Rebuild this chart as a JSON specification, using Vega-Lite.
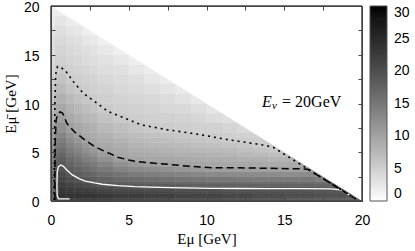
{
"$schema":"https://vega.github.io/schema/vega-lite/v6.json",
"width":311,"height":195,
"autosize":{"type":"none"},
"padding":{"left":51,"top":6,"right":53,"bottom":50},
"background":"white",
"config":{"view":{"stroke":null},"axis":{"grid":false,"domainColor":"#444","domainWidth":1,"tickColor":"#444","tickWidth":1,"labelFont":"Liberation Sans","labelFontSize":14,"labelColor":"#000","titleFont":"Liberation Serif","titleFontSize":15,"titleFontWeight":"normal","titleColor":"#000","labelFlush":false,"labelOverlap":false}},
"datasets":{
"grid":[
{"x0":0,"x1":0.25,"y0":0,"y1":0.25,"v":15.8},{"x0":0,"x1":0.25,"y0":0.25,"y1":0.5,"v":17.0},{"x0":0,"x1":0.25,"y0":0.5,"y1":0.75,"v":17.5},{"x0":0,"x1":0.25,"y0":0.75,"y1":1,"v":17.3},{"x0":0,"x1":0.25,"y0":1,"y1":1.25,"v":17.0},{"x0":0,"x1":0.25,"y0":1.25,"y1":1.5,"v":16.8},{"x0":0,"x1":0.25,"y0":1.5,"y1":1.75,"v":16.6},{"x0":0,"x1":0.25,"y0":1.75,"y1":2,"v":16.4},{"x0":0,"x1":0.25,"y0":2,"y1":2.5,"v":16.1},{"x0":0,"x1":0.25,"y0":2.5,"y1":3,"v":15.6},{"x0":0,"x1":0.25,"y0":3,"y1":3.5,"v":15.1},{"x0":0,"x1":0.25,"y0":3.5,"y1":4,"v":14.5},{"x0":0,"x1":0.25,"y0":4,"y1":4.5,"v":13.8},{"x0":0,"x1":0.25,"y0":4.5,"y1":5,"v":13.1},{"x0":0,"x1":0.25,"y0":5,"y1":5.5,"v":12.5},{"x0":0,"x1":0.25,"y0":5.5,"y1":6,"v":11.8},{"x0":0,"x1":0.25,"y0":6,"y1":6.5,"v":11.1},{"x0":0,"x1":0.25,"y0":6.5,"y1":7,"v":10.5},{"x0":0,"x1":0.25,"y0":7,"y1":8,"v":9.4},{"x0":0,"x1":0.25,"y0":8,"y1":9,"v":8.2},{"x0":0,"x1":0.25,"y0":9,"y1":10,"v":7.3},{"x0":0,"x1":0.25,"y0":10,"y1":11,"v":6.5},{"x0":0,"x1":0.25,"y0":11,"y1":12,"v":5.8},{"x0":0,"x1":0.25,"y0":12,"y1":13,"v":5.0},{"x0":0,"x1":0.25,"y0":13,"y1":14,"v":4.3},{"x0":0,"x1":0.25,"y0":14,"y1":15,"v":3.9},{"x0":0,"x1":0.25,"y0":15,"y1":16,"v":3.5},{"x0":0,"x1":0.25,"y0":16,"y1":17,"v":3.2},{"x0":0,"x1":0.25,"y0":17,"y1":18,"v":2.8},{"x0":0,"x1":0.25,"y0":18,"y1":19,"v":2.1},{"x0":0,"x1":0.25,"y0":19,"y1":20,"v":1.6},
{"x0":0.25,"x1":0.5,"y0":0,"y1":0.25,"v":19.8},{"x0":0.25,"x1":0.5,"y0":0.25,"y1":0.5,"v":21.3},{"x0":0.25,"x1":0.5,"y0":0.5,"y1":0.75,"v":21.9},{"x0":0.25,"x1":0.5,"y0":0.75,"y1":1,"v":21.6},{"x0":0.25,"x1":0.5,"y0":1,"y1":1.25,"v":21.3},{"x0":0.25,"x1":0.5,"y0":1.25,"y1":1.5,"v":21.0},{"x0":0.25,"x1":0.5,"y0":1.5,"y1":1.75,"v":20.8},{"x0":0.25,"x1":0.5,"y0":1.75,"y1":2,"v":20.5},{"x0":0.25,"x1":0.5,"y0":2,"y1":2.5,"v":20.1},{"x0":0.25,"x1":0.5,"y0":2.5,"y1":3,"v":19.5},{"x0":0.25,"x1":0.5,"y0":3,"y1":3.5,"v":18.9},{"x0":0.25,"x1":0.5,"y0":3.5,"y1":4,"v":18.1},{"x0":0.25,"x1":0.5,"y0":4,"y1":4.5,"v":17.3},{"x0":0.25,"x1":0.5,"y0":4.5,"y1":5,"v":16.4},{"x0":0.25,"x1":0.5,"y0":5,"y1":5.5,"v":15.6},{"x0":0.25,"x1":0.5,"y0":5.5,"y1":6,"v":14.8},{"x0":0.25,"x1":0.5,"y0":6,"y1":6.5,"v":13.9},{"x0":0.25,"x1":0.5,"y0":6.5,"y1":7,"v":13.1},{"x0":0.25,"x1":0.5,"y0":7,"y1":8,"v":11.8},{"x0":0.25,"x1":0.5,"y0":8,"y1":9,"v":10.2},{"x0":0.25,"x1":0.5,"y0":9,"y1":10,"v":9.1},{"x0":0.25,"x1":0.5,"y0":10,"y1":11,"v":8.1},{"x0":0.25,"x1":0.5,"y0":11,"y1":12,"v":7.2},{"x0":0.25,"x1":0.5,"y0":12,"y1":13,"v":6.2},{"x0":0.25,"x1":0.5,"y0":13,"y1":14,"v":5.4},{"x0":0.25,"x1":0.5,"y0":14,"y1":15,"v":4.9},{"x0":0.25,"x1":0.5,"y0":15,"y1":16,"v":4.4},{"x0":0.25,"x1":0.5,"y0":16,"y1":17,"v":4.0},{"x0":0.25,"x1":0.5,"y0":17,"y1":18,"v":3.5},{"x0":0.25,"x1":0.5,"y0":18,"y1":19,"v":2.7},{"x0":0.25,"x1":0.5,"y0":19,"y1":20,"v":2.0},
{"x0":0.5,"x1":1,"y0":0,"y1":0.25,"v":21.8},{"x0":0.5,"x1":1,"y0":0.25,"y1":0.5,"v":23.3},{"x0":0.5,"x1":1,"y0":0.5,"y1":0.75,"v":23.8},{"x0":0.5,"x1":1,"y0":0.75,"y1":1,"v":23.4},{"x0":0.5,"x1":1,"y0":1,"y1":1.25,"v":23.0},{"x0":0.5,"x1":1,"y0":1.25,"y1":1.5,"v":22.6},{"x0":0.5,"x1":1,"y0":1.5,"y1":1.75,"v":22.2},{"x0":0.5,"x1":1,"y0":1.75,"y1":2,"v":21.8},{"x0":0.5,"x1":1,"y0":2,"y1":2.5,"v":21.2},{"x0":0.5,"x1":1,"y0":2.5,"y1":3,"v":20.4},{"x0":0.5,"x1":1,"y0":3,"y1":3.5,"v":19.6},{"x0":0.5,"x1":1,"y0":3.5,"y1":4,"v":18.7},{"x0":0.5,"x1":1,"y0":4,"y1":4.5,"v":17.9},{"x0":0.5,"x1":1,"y0":4.5,"y1":5,"v":17.0},{"x0":0.5,"x1":1,"y0":5,"y1":5.5,"v":16.1},{"x0":0.5,"x1":1,"y0":5.5,"y1":6,"v":15.2},{"x0":0.5,"x1":1,"y0":6,"y1":6.5,"v":14.3},{"x0":0.5,"x1":1,"y0":6.5,"y1":7,"v":13.4},{"x0":0.5,"x1":1,"y0":7,"y1":8,"v":12.1},{"x0":0.5,"x1":1,"y0":8,"y1":9,"v":10.4},{"x0":0.5,"x1":1,"y0":9,"y1":10,"v":9.3},{"x0":0.5,"x1":1,"y0":10,"y1":11,"v":8.3},{"x0":0.5,"x1":1,"y0":11,"y1":12,"v":7.4},{"x0":0.5,"x1":1,"y0":12,"y1":13,"v":6.5},{"x0":0.5,"x1":1,"y0":13,"y1":14,"v":5.6},{"x0":0.5,"x1":1,"y0":14,"y1":15,"v":5.0},{"x0":0.5,"x1":1,"y0":15,"y1":16,"v":4.5},{"x0":0.5,"x1":1,"y0":16,"y1":17,"v":4.0},{"x0":0.5,"x1":1,"y0":17,"y1":18,"v":3.4},{"x0":0.5,"x1":1,"y0":18,"y1":19,"v":2.6},{"x0":0.5,"x1":1,"y0":19,"y1":20,"v":1.8},
{"x0":1,"x1":1.5,"y0":0,"y1":0.25,"v":21.8},{"x0":1,"x1":1.5,"y0":0.25,"y1":0.5,"v":23.3},{"x0":1,"x1":1.5,"y0":0.5,"y1":0.75,"v":23.7},{"x0":1,"x1":1.5,"y0":0.75,"y1":1,"v":23.2},{"x0":1,"x1":1.5,"y0":1,"y1":1.25,"v":22.6},{"x0":1,"x1":1.5,"y0":1.25,"y1":1.5,"v":22.1},{"x0":1,"x1":1.5,"y0":1.5,"y1":1.75,"v":21.6},{"x0":1,"x1":1.5,"y0":1.75,"y1":2,"v":21.0},{"x0":1,"x1":1.5,"y0":2,"y1":2.5,"v":20.2},{"x0":1,"x1":1.5,"y0":2.5,"y1":3,"v":19.1},{"x0":1,"x1":1.5,"y0":3,"y1":3.5,"v":18.2},{"x0":1,"x1":1.5,"y0":3.5,"y1":4,"v":17.2},{"x0":1,"x1":1.5,"y0":4,"y1":4.5,"v":16.3},{"x0":1,"x1":1.5,"y0":4.5,"y1":5,"v":15.3},{"x0":1,"x1":1.5,"y0":5,"y1":5.5,"v":14.4},{"x0":1,"x1":1.5,"y0":5.5,"y1":6,"v":13.5},{"x0":1,"x1":1.5,"y0":6,"y1":6.5,"v":12.5},{"x0":1,"x1":1.5,"y0":6.5,"y1":7,"v":11.6},{"x0":1,"x1":1.5,"y0":7,"y1":8,"v":10.2},{"x0":1,"x1":1.5,"y0":8,"y1":9,"v":9.2},{"x0":1,"x1":1.5,"y0":9,"y1":10,"v":8.2},{"x0":1,"x1":1.5,"y0":10,"y1":11,"v":7.3},{"x0":1,"x1":1.5,"y0":11,"y1":12,"v":6.3},{"x0":1,"x1":1.5,"y0":12,"y1":13,"v":5.5},{"x0":1,"x1":1.5,"y0":13,"y1":14,"v":5.0},{"x0":1,"x1":1.5,"y0":14,"y1":15,"v":4.5},{"x0":1,"x1":1.5,"y0":15,"y1":16,"v":4.0},{"x0":1,"x1":1.5,"y0":16,"y1":17,"v":3.6},{"x0":1,"x1":1.5,"y0":17,"y1":18,"v":2.8},{"x0":1,"x1":1.5,"y0":18,"y1":19,"v":2.0},
{"x0":1.5,"x1":2,"y0":0,"y1":0.25,"v":21.8},{"x0":1.5,"x1":2,"y0":0.25,"y1":0.5,"v":23.3},{"x0":1.5,"x1":2,"y0":0.5,"y1":0.75,"v":23.7},{"x0":1.5,"x1":2,"y0":0.75,"y1":1,"v":23.0},{"x0":1.5,"x1":2,"y0":1,"y1":1.25,"v":22.4},{"x0":1.5,"x1":2,"y0":1.25,"y1":1.5,"v":21.7},{"x0":1.5,"x1":2,"y0":1.5,"y1":1.75,"v":21.0},{"x0":1.5,"x1":2,"y0":1.75,"y1":2,"v":20.4},{"x0":1.5,"x1":2,"y0":2,"y1":2.5,"v":19.4},{"x0":1.5,"x1":2,"y0":2.5,"y1":3,"v":18.3},{"x0":1.5,"x1":2,"y0":3,"y1":3.5,"v":17.3},{"x0":1.5,"x1":2,"y0":3.5,"y1":4,"v":16.3},{"x0":1.5,"x1":2,"y0":4,"y1":4.5,"v":15.3},{"x0":1.5,"x1":2,"y0":4.5,"y1":5,"v":14.3},{"x0":1.5,"x1":2,"y0":5,"y1":5.5,"v":13.3},{"x0":1.5,"x1":2,"y0":5.5,"y1":6,"v":12.3},{"x0":1.5,"x1":2,"y0":6,"y1":6.5,"v":11.3},{"x0":1.5,"x1":2,"y0":6.5,"y1":7,"v":10.3},{"x0":1.5,"x1":2,"y0":7,"y1":8,"v":9.4},{"x0":1.5,"x1":2,"y0":8,"y1":9,"v":8.5},{"x0":1.5,"x1":2,"y0":9,"y1":10,"v":7.6},{"x0":1.5,"x1":2,"y0":10,"y1":11,"v":6.6},{"x0":1.5,"x1":2,"y0":11,"y1":12,"v":5.7},{"x0":1.5,"x1":2,"y0":12,"y1":13,"v":5.1},{"x0":1.5,"x1":2,"y0":13,"y1":14,"v":4.6},{"x0":1.5,"x1":2,"y0":14,"y1":15,"v":4.2},{"x0":1.5,"x1":2,"y0":15,"y1":16,"v":3.7},{"x0":1.5,"x1":2,"y0":16,"y1":17,"v":3.2},{"x0":1.5,"x1":2,"y0":17,"y1":18,"v":2.5},{"x0":1.5,"x1":2,"y0":18,"y1":19,"v":1.8},
{"x0":2,"x1":2.5,"y0":0,"y1":0.25,"v":21.8},{"x0":2,"x1":2.5,"y0":0.25,"y1":0.5,"v":23.3},{"x0":2,"x1":2.5,"y0":0.5,"y1":0.75,"v":23.6},{"x0":2,"x1":2.5,"y0":0.75,"y1":1,"v":22.8},{"x0":2,"x1":2.5,"y0":1,"y1":1.25,"v":22.0},{"x0":2,"x1":2.5,"y0":1.25,"y1":1.5,"v":21.2},{"x0":2,"x1":2.5,"y0":1.5,"y1":1.75,"v":20.4},{"x0":2,"x1":2.5,"y0":1.75,"y1":2,"v":19.6},{"x0":2,"x1":2.5,"y0":2,"y1":2.5,"v":18.6},{"x0":2,"x1":2.5,"y0":2.5,"y1":3,"v":17.5},{"x0":2,"x1":2.5,"y0":3,"y1":3.5,"v":16.4},{"x0":2,"x1":2.5,"y0":3.5,"y1":4,"v":15.3},{"x0":2,"x1":2.5,"y0":4,"y1":4.5,"v":14.2},{"x0":2,"x1":2.5,"y0":4.5,"y1":5,"v":13.1},{"x0":2,"x1":2.5,"y0":5,"y1":5.5,"v":12.1},{"x0":2,"x1":2.5,"y0":5.5,"y1":6,"v":11.0},{"x0":2,"x1":2.5,"y0":6,"y1":6.5,"v":10.0},{"x0":2,"x1":2.5,"y0":6.5,"y1":7,"v":9.5},{"x0":2,"x1":2.5,"y0":7,"y1":8,"v":8.8},{"x0":2,"x1":2.5,"y0":8,"y1":9,"v":7.8},{"x0":2,"x1":2.5,"y0":9,"y1":10,"v":6.9},{"x0":2,"x1":2.5,"y0":10,"y1":11,"v":6.0},{"x0":2,"x1":2.5,"y0":11,"y1":12,"v":5.3},{"x0":2,"x1":2.5,"y0":12,"y1":13,"v":4.8},{"x0":2,"x1":2.5,"y0":13,"y1":14,"v":4.3},{"x0":2,"x1":2.5,"y0":14,"y1":15,"v":3.8},{"x0":2,"x1":2.5,"y0":15,"y1":16,"v":3.4},{"x0":2,"x1":2.5,"y0":16,"y1":17,"v":2.6},{"x0":2,"x1":2.5,"y0":17,"y1":18,"v":1.8},
{"x0":2.5,"x1":3,"y0":0,"y1":0.25,"v":21.8},{"x0":2.5,"x1":3,"y0":0.25,"y1":0.5,"v":23.3},{"x0":2.5,"x1":3,"y0":0.5,"y1":0.75,"v":23.5},{"x0":2.5,"x1":3,"y0":0.75,"y1":1,"v":22.6},{"x0":2.5,"x1":3,"y0":1,"y1":1.25,"v":21.7},{"x0":2.5,"x1":3,"y0":1.25,"y1":1.5,"v":20.8},{"x0":2.5,"x1":3,"y0":1.5,"y1":1.75,"v":19.8},{"x0":2.5,"x1":3,"y0":1.75,"y1":2,"v":18.9},{"x0":2.5,"x1":3,"y0":2,"y1":2.5,"v":18.1},{"x0":2.5,"x1":3,"y0":2.5,"y1":3,"v":16.9},{"x0":2.5,"x1":3,"y0":3,"y1":3.5,"v":15.7},{"x0":2.5,"x1":3,"y0":3.5,"y1":4,"v":14.6},{"x0":2.5,"x1":3,"y0":4,"y1":4.5,"v":13.4},{"x0":2.5,"x1":3,"y0":4.5,"y1":5,"v":12.2},{"x0":2.5,"x1":3,"y0":5,"y1":5.5,"v":11.1},{"x0":2.5,"x1":3,"y0":5.5,"y1":6,"v":10.0},{"x0":2.5,"x1":3,"y0":6,"y1":6.5,"v":9.5},{"x0":2.5,"x1":3,"y0":6.5,"y1":7,"v":9.0},{"x0":2.5,"x1":3,"y0":7,"y1":8,"v":8.3},{"x0":2.5,"x1":3,"y0":8,"y1":9,"v":7.3},{"x0":2.5,"x1":3,"y0":9,"y1":10,"v":6.4},{"x0":2.5,"x1":3,"y0":10,"y1":11,"v":5.5},{"x0":2.5,"x1":3,"y0":11,"y1":12,"v":5.0},{"x0":2.5,"x1":3,"y0":12,"y1":13,"v":4.5},{"x0":2.5,"x1":3,"y0":13,"y1":14,"v":4.0},{"x0":2.5,"x1":3,"y0":14,"y1":15,"v":3.5},{"x0":2.5,"x1":3,"y0":15,"y1":16,"v":3.0},{"x0":2.5,"x1":3,"y0":16,"y1":17,"v":2.3},{"x0":2.5,"x1":3,"y0":17,"y1":18,"v":1.6},
{"x0":3,"x1":4,"y0":0,"y1":0.25,"v":21.3},{"x0":3,"x1":4,"y0":0.25,"y1":0.5,"v":22.8},{"x0":3,"x1":4,"y0":0.5,"y1":0.75,"v":23.0},{"x0":3,"x1":4,"y0":0.75,"y1":1,"v":22.1},{"x0":3,"x1":4,"y0":1,"y1":1.25,"v":21.2},{"x0":3,"x1":4,"y0":1.25,"y1":1.5,"v":20.2},{"x0":3,"x1":4,"y0":1.5,"y1":1.75,"v":19.3},{"x0":3,"x1":4,"y0":1.75,"y1":2,"v":18.5},{"x0":3,"x1":4,"y0":2,"y1":2.5,"v":17.5},{"x0":3,"x1":4,"y0":2.5,"y1":3,"v":16.1},{"x0":3,"x1":4,"y0":3,"y1":3.5,"v":14.8},{"x0":3,"x1":4,"y0":3.5,"y1":4,"v":13.4},{"x0":3,"x1":4,"y0":4,"y1":4.5,"v":12.0},{"x0":3,"x1":4,"y0":4.5,"y1":5,"v":10.7},{"x0":3,"x1":4,"y0":5,"y1":5.5,"v":9.8},{"x0":3,"x1":4,"y0":5.5,"y1":6,"v":9.3},{"x0":3,"x1":4,"y0":6,"y1":6.5,"v":8.8},{"x0":3,"x1":4,"y0":6.5,"y1":7,"v":8.3},{"x0":3,"x1":4,"y0":7,"y1":8,"v":7.5},{"x0":3,"x1":4,"y0":8,"y1":9,"v":6.5},{"x0":3,"x1":4,"y0":9,"y1":10,"v":5.5},{"x0":3,"x1":4,"y0":10,"y1":11,"v":5.0},{"x0":3,"x1":4,"y0":11,"y1":12,"v":4.6},{"x0":3,"x1":4,"y0":12,"y1":13,"v":4.1},{"x0":3,"x1":4,"y0":13,"y1":14,"v":3.6},{"x0":3,"x1":4,"y0":14,"y1":15,"v":3.1},{"x0":3,"x1":4,"y0":15,"y1":16,"v":2.4},{"x0":3,"x1":4,"y0":16,"y1":17,"v":1.7},
{"x0":4,"x1":5,"y0":0,"y1":0.25,"v":20.8},{"x0":4,"x1":5,"y0":0.25,"y1":0.5,"v":22.3},{"x0":4,"x1":5,"y0":0.5,"y1":0.75,"v":22.5},{"x0":4,"x1":5,"y0":0.75,"y1":1,"v":21.6},{"x0":4,"x1":5,"y0":1,"y1":1.25,"v":20.6},{"x0":4,"x1":5,"y0":1.25,"y1":1.5,"v":19.7},{"x0":4,"x1":5,"y0":1.5,"y1":1.75,"v":18.8},{"x0":4,"x1":5,"y0":1.75,"y1":2,"v":18.0},{"x0":4,"x1":5,"y0":2,"y1":2.5,"v":16.8},{"x0":4,"x1":5,"y0":2.5,"y1":3,"v":15.2},{"x0":4,"x1":5,"y0":3,"y1":3.5,"v":13.6},{"x0":4,"x1":5,"y0":3.5,"y1":4,"v":12.1},{"x0":4,"x1":5,"y0":4,"y1":4.5,"v":10.5},{"x0":4,"x1":5,"y0":4.5,"y1":5,"v":9.6},{"x0":4,"x1":5,"y0":5,"y1":5.5,"v":9.1},{"x0":4,"x1":5,"y0":5.5,"y1":6,"v":8.6},{"x0":4,"x1":5,"y0":6,"y1":6.5,"v":8.1},{"x0":4,"x1":5,"y0":6.5,"y1":7,"v":7.5},{"x0":4,"x1":5,"y0":7,"y1":8,"v":6.8},{"x0":4,"x1":5,"y0":8,"y1":9,"v":5.7},{"x0":4,"x1":5,"y0":9,"y1":10,"v":5.1},{"x0":4,"x1":5,"y0":10,"y1":11,"v":4.6},{"x0":4,"x1":5,"y0":11,"y1":12,"v":4.1},{"x0":4,"x1":5,"y0":12,"y1":13,"v":3.7},{"x0":4,"x1":5,"y0":13,"y1":14,"v":3.2},{"x0":4,"x1":5,"y0":14,"y1":15,"v":2.4},{"x0":4,"x1":5,"y0":15,"y1":16,"v":1.7},
{"x0":5,"x1":6,"y0":0,"y1":0.25,"v":20.8},{"x0":5,"x1":6,"y0":0.25,"y1":0.5,"v":22.3},{"x0":5,"x1":6,"y0":0.5,"y1":0.75,"v":22.5},{"x0":5,"x1":6,"y0":0.75,"y1":1,"v":21.5},{"x0":5,"x1":6,"y0":1,"y1":1.25,"v":20.4},{"x0":5,"x1":6,"y0":1.25,"y1":1.5,"v":19.4},{"x0":5,"x1":6,"y0":1.5,"y1":1.75,"v":18.5},{"x0":5,"x1":6,"y0":1.75,"y1":2,"v":17.6},{"x0":5,"x1":6,"y0":2,"y1":2.5,"v":16.3},{"x0":5,"x1":6,"y0":2.5,"y1":3,"v":14.5},{"x0":5,"x1":6,"y0":3,"y1":3.5,"v":12.8},{"x0":5,"x1":6,"y0":3.5,"y1":4,"v":11.0},{"x0":5,"x1":6,"y0":4,"y1":4.5,"v":9.8},{"x0":5,"x1":6,"y0":4.5,"y1":5,"v":9.2},{"x0":5,"x1":6,"y0":5,"y1":5.5,"v":8.6},{"x0":5,"x1":6,"y0":5.5,"y1":6,"v":8.1},{"x0":5,"x1":6,"y0":6,"y1":6.5,"v":7.5},{"x0":5,"x1":6,"y0":6.5,"y1":7,"v":6.9},{"x0":5,"x1":6,"y0":7,"y1":8,"v":6.1},{"x0":5,"x1":6,"y0":8,"y1":9,"v":5.3},{"x0":5,"x1":6,"y0":9,"y1":10,"v":4.8},{"x0":5,"x1":6,"y0":10,"y1":11,"v":4.3},{"x0":5,"x1":6,"y0":11,"y1":12,"v":3.8},{"x0":5,"x1":6,"y0":12,"y1":13,"v":3.3},{"x0":5,"x1":6,"y0":13,"y1":14,"v":2.5},{"x0":5,"x1":6,"y0":14,"y1":15,"v":1.8},
{"x0":6,"x1":7,"y0":0,"y1":0.25,"v":20.3},{"x0":6,"x1":7,"y0":0.25,"y1":0.5,"v":21.8},{"x0":6,"x1":7,"y0":0.5,"y1":0.75,"v":22.0},{"x0":6,"x1":7,"y0":0.75,"y1":1,"v":21.1},{"x0":6,"x1":7,"y0":1,"y1":1.25,"v":20.1},{"x0":6,"x1":7,"y0":1.25,"y1":1.5,"v":19.2},{"x0":6,"x1":7,"y0":1.5,"y1":1.75,"v":18.3},{"x0":6,"x1":7,"y0":1.75,"y1":2,"v":17.3},{"x0":6,"x1":7,"y0":2,"y1":2.5,"v":16.0},{"x0":6,"x1":7,"y0":2.5,"y1":3,"v":14.2},{"x0":6,"x1":7,"y0":3,"y1":3.5,"v":12.4},{"x0":6,"x1":7,"y0":3.5,"y1":4,"v":10.5},{"x0":6,"x1":7,"y0":4,"y1":4.5,"v":9.6},{"x0":6,"x1":7,"y0":4.5,"y1":5,"v":9.0},{"x0":6,"x1":7,"y0":5,"y1":5.5,"v":8.4},{"x0":6,"x1":7,"y0":5.5,"y1":6,"v":7.7},{"x0":6,"x1":7,"y0":6,"y1":6.5,"v":7.1},{"x0":6,"x1":7,"y0":6.5,"y1":7,"v":6.5},{"x0":6,"x1":7,"y0":7,"y1":8,"v":5.6},{"x0":6,"x1":7,"y0":8,"y1":9,"v":5.0},{"x0":6,"x1":7,"y0":9,"y1":10,"v":4.5},{"x0":6,"x1":7,"y0":10,"y1":11,"v":4.0},{"x0":6,"x1":7,"y0":11,"y1":12,"v":3.4},{"x0":6,"x1":7,"y0":12,"y1":13,"v":2.6},{"x0":6,"x1":7,"y0":13,"y1":14,"v":1.9},
{"x0":7,"x1":8,"y0":0,"y1":0.25,"v":20.3},{"x0":7,"x1":8,"y0":0.25,"y1":0.5,"v":21.8},{"x0":7,"x1":8,"y0":0.5,"y1":0.75,"v":22.0},{"x0":7,"x1":8,"y0":0.75,"y1":1,"v":21.0},{"x0":7,"x1":8,"y0":1,"y1":1.25,"v":20.0},{"x0":7,"x1":8,"y0":1.25,"y1":1.5,"v":19.0},{"x0":7,"x1":8,"y0":1.5,"y1":1.75,"v":18.1},{"x0":7,"x1":8,"y0":1.75,"y1":2,"v":17.1},{"x0":7,"x1":8,"y0":2,"y1":2.5,"v":15.7},{"x0":7,"x1":8,"y0":2.5,"y1":3,"v":13.8},{"x0":7,"x1":8,"y0":3,"y1":3.5,"v":11.9},{"x0":7,"x1":8,"y0":3.5,"y1":4,"v":10.0},{"x0":7,"x1":8,"y0":4,"y1":4.5,"v":9.4},{"x0":7,"x1":8,"y0":4.5,"y1":5,"v":8.7},{"x0":7,"x1":8,"y0":5,"y1":5.5,"v":8.1},{"x0":7,"x1":8,"y0":5.5,"y1":6,"v":7.5},{"x0":7,"x1":8,"y0":6,"y1":6.5,"v":6.8},{"x0":7,"x1":8,"y0":6.5,"y1":7,"v":6.2},{"x0":7,"x1":8,"y0":7,"y1":8,"v":5.4},{"x0":7,"x1":8,"y0":8,"y1":9,"v":4.8},{"x0":7,"x1":8,"y0":9,"y1":10,"v":4.2},{"x0":7,"x1":8,"y0":10,"y1":11,"v":3.7},{"x0":7,"x1":8,"y0":11,"y1":12,"v":2.8},{"x0":7,"x1":8,"y0":12,"y1":13,"v":2.0},
{"x0":8,"x1":9,"y0":0,"y1":0.25,"v":19.8},{"x0":8,"x1":9,"y0":0.25,"y1":0.5,"v":21.3},{"x0":8,"x1":9,"y0":0.5,"y1":0.75,"v":21.6},{"x0":8,"x1":9,"y0":0.75,"y1":1,"v":20.7},{"x0":8,"x1":9,"y0":1,"y1":1.25,"v":19.8},{"x0":8,"x1":9,"y0":1.25,"y1":1.5,"v":18.9},{"x0":8,"x1":9,"y0":1.5,"y1":1.75,"v":17.9},{"x0":8,"x1":9,"y0":1.75,"y1":2,"v":16.9},{"x0":8,"x1":9,"y0":2,"y1":2.5,"v":15.4},{"x0":8,"x1":9,"y0":2.5,"y1":3,"v":13.4},{"x0":8,"x1":9,"y0":3,"y1":3.5,"v":11.4},{"x0":8,"x1":9,"y0":3.5,"y1":4,"v":9.8},{"x0":8,"x1":9,"y0":4,"y1":4.5,"v":9.2},{"x0":8,"x1":9,"y0":4.5,"y1":5,"v":8.5},{"x0":8,"x1":9,"y0":5,"y1":5.5,"v":7.8},{"x0":8,"x1":9,"y0":5.5,"y1":6,"v":7.2},{"x0":8,"x1":9,"y0":6,"y1":6.5,"v":6.5},{"x0":8,"x1":9,"y0":6.5,"y1":7,"v":5.9},{"x0":8,"x1":9,"y0":7,"y1":8,"v":5.2},{"x0":8,"x1":9,"y0":8,"y1":9,"v":4.6},{"x0":8,"x1":9,"y0":9,"y1":10,"v":4.0},{"x0":8,"x1":9,"y0":10,"y1":11,"v":3.0},{"x0":8,"x1":9,"y0":11,"y1":12,"v":2.2},
{"x0":9,"x1":10,"y0":0,"y1":0.25,"v":19.8},{"x0":9,"x1":10,"y0":0.25,"y1":0.5,"v":21.3},{"x0":9,"x1":10,"y0":0.5,"y1":0.75,"v":21.5},{"x0":9,"x1":10,"y0":0.75,"y1":1,"v":20.6},{"x0":9,"x1":10,"y0":1,"y1":1.25,"v":19.7},{"x0":9,"x1":10,"y0":1.25,"y1":1.5,"v":18.8},{"x0":9,"x1":10,"y0":1.5,"y1":1.75,"v":17.8},{"x0":9,"x1":10,"y0":1.75,"y1":2,"v":16.7},{"x0":9,"x1":10,"y0":2,"y1":2.5,"v":15.2},{"x0":9,"x1":10,"y0":2.5,"y1":3,"v":13.1},{"x0":9,"x1":10,"y0":3,"y1":3.5,"v":11.0},{"x0":9,"x1":10,"y0":3.5,"y1":4,"v":9.7},{"x0":9,"x1":10,"y0":4,"y1":4.5,"v":9.0},{"x0":9,"x1":10,"y0":4.5,"y1":5,"v":8.3},{"x0":9,"x1":10,"y0":5,"y1":5.5,"v":7.6},{"x0":9,"x1":10,"y0":5.5,"y1":6,"v":6.9},{"x0":9,"x1":10,"y0":6,"y1":6.5,"v":6.3},{"x0":9,"x1":10,"y0":6.5,"y1":7,"v":5.6},{"x0":9,"x1":10,"y0":7,"y1":8,"v":5.0},{"x0":9,"x1":10,"y0":8,"y1":9,"v":4.3},{"x0":9,"x1":10,"y0":9,"y1":10,"v":3.3},{"x0":9,"x1":10,"y0":10,"y1":11,"v":2.4},
{"x0":10,"x1":11,"y0":0,"y1":0.25,"v":19.8},{"x0":10,"x1":11,"y0":0.25,"y1":0.5,"v":21.3},{"x0":10,"x1":11,"y0":0.5,"y1":0.75,"v":21.5},{"x0":10,"x1":11,"y0":0.75,"y1":1,"v":20.6},{"x0":10,"x1":11,"y0":1,"y1":1.25,"v":19.7},{"x0":10,"x1":11,"y0":1.25,"y1":1.5,"v":18.7},{"x0":10,"x1":11,"y0":1.5,"y1":1.75,"v":17.6},{"x0":10,"x1":11,"y0":1.75,"y1":2,"v":16.5},{"x0":10,"x1":11,"y0":2,"y1":2.5,"v":14.9},{"x0":10,"x1":11,"y0":2.5,"y1":3,"v":12.8},{"x0":10,"x1":11,"y0":3,"y1":3.5,"v":10.6},{"x0":10,"x1":11,"y0":3.5,"y1":4,"v":9.5},{"x0":10,"x1":11,"y0":4,"y1":4.5,"v":8.8},{"x0":10,"x1":11,"y0":4.5,"y1":5,"v":8.1},{"x0":10,"x1":11,"y0":5,"y1":5.5,"v":7.4},{"x0":10,"x1":11,"y0":5.5,"y1":6,"v":6.7},{"x0":10,"x1":11,"y0":6,"y1":6.5,"v":6.0},{"x0":10,"x1":11,"y0":6.5,"y1":7,"v":5.4},{"x0":10,"x1":11,"y0":7,"y1":8,"v":4.8},{"x0":10,"x1":11,"y0":8,"y1":9,"v":3.7},{"x0":10,"x1":11,"y0":9,"y1":10,"v":2.7},
{"x0":11,"x1":12,"y0":0,"y1":0.25,"v":19.3},{"x0":11,"x1":12,"y0":0.25,"y1":0.5,"v":20.8},{"x0":11,"x1":12,"y0":0.5,"y1":0.75,"v":21.1},{"x0":11,"x1":12,"y0":0.75,"y1":1,"v":20.3},{"x0":11,"x1":12,"y0":1,"y1":1.25,"v":19.5},{"x0":11,"x1":12,"y0":1.25,"y1":1.5,"v":18.6},{"x0":11,"x1":12,"y0":1.5,"y1":1.75,"v":17.5},{"x0":11,"x1":12,"y0":1.75,"y1":2,"v":16.5},{"x0":11,"x1":12,"y0":2,"y1":2.5,"v":14.9},{"x0":11,"x1":12,"y0":2.5,"y1":3,"v":12.8},{"x0":11,"x1":12,"y0":3,"y1":3.5,"v":10.6},{"x0":11,"x1":12,"y0":3.5,"y1":4,"v":9.4},{"x0":11,"x1":12,"y0":4,"y1":4.5,"v":8.7},{"x0":11,"x1":12,"y0":4.5,"y1":5,"v":7.9},{"x0":11,"x1":12,"y0":5,"y1":5.5,"v":7.1},{"x0":11,"x1":12,"y0":5.5,"y1":6,"v":6.3},{"x0":11,"x1":12,"y0":6,"y1":6.5,"v":5.5},{"x0":11,"x1":12,"y0":6.5,"y1":7,"v":5.1},{"x0":11,"x1":12,"y0":7,"y1":8,"v":4.4},{"x0":11,"x1":12,"y0":8,"y1":9,"v":3.3},
{"x0":12,"x1":13,"y0":0,"y1":0.25,"v":19.3},{"x0":12,"x1":13,"y0":0.25,"y1":0.5,"v":20.8},{"x0":12,"x1":13,"y0":0.5,"y1":0.75,"v":21.1},{"x0":12,"x1":13,"y0":0.75,"y1":1,"v":20.3},{"x0":12,"x1":13,"y0":1,"y1":1.25,"v":19.5},{"x0":12,"x1":13,"y0":1.25,"y1":1.5,"v":18.5},{"x0":12,"x1":13,"y0":1.5,"y1":1.75,"v":17.5},{"x0":12,"x1":13,"y0":1.75,"y1":2,"v":16.4},{"x0":12,"x1":13,"y0":2,"y1":2.5,"v":14.8},{"x0":12,"x1":13,"y0":2.5,"y1":3,"v":12.6},{"x0":12,"x1":13,"y0":3,"y1":3.5,"v":10.4},{"x0":12,"x1":13,"y0":3.5,"y1":4,"v":9.3},{"x0":12,"x1":13,"y0":4,"y1":4.5,"v":8.5},{"x0":12,"x1":13,"y0":4.5,"y1":5,"v":7.6},{"x0":12,"x1":13,"y0":5,"y1":5.5,"v":6.8},{"x0":12,"x1":13,"y0":5.5,"y1":6,"v":5.9},{"x0":12,"x1":13,"y0":6,"y1":6.5,"v":5.3},{"x0":12,"x1":13,"y0":6.5,"y1":7,"v":4.9},{"x0":12,"x1":13,"y0":7,"y1":8,"v":4.0},
{"x0":13,"x1":14,"y0":0,"y1":0.25,"v":18.8},{"x0":13,"x1":14,"y0":0.25,"y1":0.5,"v":20.3},{"x0":13,"x1":14,"y0":0.5,"y1":0.75,"v":20.7},{"x0":13,"x1":14,"y0":0.75,"y1":1,"v":20.0},{"x0":13,"x1":14,"y0":1,"y1":1.25,"v":19.4},{"x0":13,"x1":14,"y0":1.25,"y1":1.5,"v":18.5},{"x0":13,"x1":14,"y0":1.5,"y1":1.75,"v":17.4},{"x0":13,"x1":14,"y0":1.75,"y1":2,"v":16.3},{"x0":13,"x1":14,"y0":2,"y1":2.5,"v":14.6},{"x0":13,"x1":14,"y0":2.5,"y1":3,"v":12.5},{"x0":13,"x1":14,"y0":3,"y1":3.5,"v":10.3},{"x0":13,"x1":14,"y0":3.5,"y1":4,"v":9.2},{"x0":13,"x1":14,"y0":4,"y1":4.5,"v":8.3},{"x0":13,"x1":14,"y0":4.5,"y1":5,"v":7.3},{"x0":13,"x1":14,"y0":5,"y1":5.5,"v":6.4},{"x0":13,"x1":14,"y0":5.5,"y1":6,"v":5.5},{"x0":13,"x1":14,"y0":6,"y1":6.5,"v":5.2},{"x0":13,"x1":14,"y0":6.5,"y1":7,"v":4.8},
{"x0":14,"x1":15,"y0":0,"y1":0.25,"v":18.8},{"x0":14,"x1":15,"y0":0.25,"y1":0.5,"v":20.3},{"x0":14,"x1":15,"y0":0.5,"y1":0.75,"v":20.7},{"x0":14,"x1":15,"y0":0.75,"y1":1,"v":20.0},{"x0":14,"x1":15,"y0":1,"y1":1.25,"v":19.3},{"x0":14,"x1":15,"y0":1.25,"y1":1.5,"v":18.5},{"x0":14,"x1":15,"y0":1.5,"y1":1.75,"v":17.4},{"x0":14,"x1":15,"y0":1.75,"y1":2,"v":16.3},{"x0":14,"x1":15,"y0":2,"y1":2.5,"v":14.6},{"x0":14,"x1":15,"y0":2.5,"y1":3,"v":12.4},{"x0":14,"x1":15,"y0":3,"y1":3.5,"v":10.2},{"x0":14,"x1":15,"y0":3.5,"y1":4,"v":9.0},{"x0":14,"x1":15,"y0":4,"y1":4.5,"v":8.0},{"x0":14,"x1":15,"y0":4.5,"y1":5,"v":6.9},{"x0":14,"x1":15,"y0":5,"y1":5.5,"v":5.8},{"x0":14,"x1":15,"y0":5.5,"y1":6,"v":5.6},
{"x0":15,"x1":16,"y0":0,"y1":0.25,"v":18.3},{"x0":15,"x1":16,"y0":0.25,"y1":0.5,"v":19.8},{"x0":15,"x1":16,"y0":0.5,"y1":0.75,"v":20.3},{"x0":15,"x1":16,"y0":0.75,"y1":1,"v":19.8},{"x0":15,"x1":16,"y0":1,"y1":1.25,"v":19.3},{"x0":15,"x1":16,"y0":1.25,"y1":1.5,"v":18.4},{"x0":15,"x1":16,"y0":1.5,"y1":1.75,"v":17.3},{"x0":15,"x1":16,"y0":1.75,"y1":2,"v":16.2},{"x0":15,"x1":16,"y0":2,"y1":2.5,"v":14.5},{"x0":15,"x1":16,"y0":2.5,"y1":3,"v":12.3},{"x0":15,"x1":16,"y0":3,"y1":3.5,"v":10.0},{"x0":15,"x1":16,"y0":3.5,"y1":4,"v":9.0},{"x0":15,"x1":16,"y0":4,"y1":4.5,"v":8.0},{"x0":15,"x1":16,"y0":4.5,"y1":5,"v":7.0},
{"x0":16,"x1":17,"y0":0,"y1":0.25,"v":18.3},{"x0":16,"x1":17,"y0":0.25,"y1":0.5,"v":19.8},{"x0":16,"x1":17,"y0":0.5,"y1":0.75,"v":20.3},{"x0":16,"x1":17,"y0":0.75,"y1":1,"v":19.8},{"x0":16,"x1":17,"y0":1,"y1":1.25,"v":19.3},{"x0":16,"x1":17,"y0":1.25,"y1":1.5,"v":18.5},{"x0":16,"x1":17,"y0":1.5,"y1":1.75,"v":17.4},{"x0":16,"x1":17,"y0":1.75,"y1":2,"v":16.3},{"x0":16,"x1":17,"y0":2,"y1":2.5,"v":14.7},{"x0":16,"x1":17,"y0":2.5,"y1":3,"v":12.6},{"x0":16,"x1":17,"y0":3,"y1":3.5,"v":10.4},{"x0":16,"x1":17,"y0":3.5,"y1":4,"v":9.5},
{"x0":17,"x1":18,"y0":0,"y1":0.25,"v":17.8},{"x0":17,"x1":18,"y0":0.25,"y1":0.5,"v":19.3},{"x0":17,"x1":18,"y0":0.5,"y1":0.75,"v":19.8},{"x0":17,"x1":18,"y0":0.75,"y1":1,"v":19.5},{"x0":17,"x1":18,"y0":1,"y1":1.25,"v":19.2},{"x0":17,"x1":18,"y0":1.25,"y1":1.5,"v":18.4},{"x0":17,"x1":18,"y0":1.5,"y1":1.75,"v":17.2},{"x0":17,"x1":18,"y0":1.75,"y1":2,"v":16.0},{"x0":17,"x1":18,"y0":2,"y1":2.5,"v":14.2},{"x0":17,"x1":18,"y0":2.5,"y1":3,"v":12.5},
{"x0":18,"x1":19,"y0":0,"y1":0.25,"v":17.8},{"x0":18,"x1":19,"y0":0.25,"y1":0.5,"v":19.3},{"x0":18,"x1":19,"y0":0.5,"y1":0.75,"v":19.8},{"x0":18,"x1":19,"y0":0.75,"y1":1,"v":19.5},{"x0":18,"x1":19,"y0":1,"y1":1.25,"v":19.2},{"x0":18,"x1":19,"y0":1.25,"y1":1.5,"v":18.6},{"x0":18,"x1":19,"y0":1.5,"y1":1.75,"v":18.0},{"x0":18,"x1":19,"y0":1.75,"y1":2,"v":17.8},
{"x0":19,"x1":20,"y0":0,"y1":0.25,"v":17.5},{"x0":19,"x1":20,"y0":0.25,"y1":0.5,"v":19.0},{"x0":19,"x1":20,"y0":0.5,"y1":0.75,"v":19.3},{"x0":19,"x1":20,"y0":0.75,"y1":1,"v":19.2}
],
"mask":[{"x":0,"lo":20,"hi":20},{"x":20,"lo":0,"hi":20}],
"frame":[{"x0":0,"x1":20,"y0":0,"y1":20}],
"white":[{"i":0,"x":1.2,"y":0.22},{"i":1,"x":0.5,"y":0.22},{"i":2,"x":0.4,"y":0.5},{"i":3,"x":0.38,"y":1.5},{"i":4,"x":0.4,"y":3.0},{"i":5,"x":0.48,"y":3.5},{"i":6,"x":0.62,"y":3.7},{"i":7,"x":0.8,"y":3.55},{"i":8,"x":1.0,"y":3.2},{"i":9,"x":1.35,"y":2.7},{"i":10,"x":1.8,"y":2.3},{"i":11,"x":2.2,"y":2.05},{"i":12,"x":2.8,"y":1.85},{"i":13,"x":3.3,"y":1.72},{"i":14,"x":4.3,"y":1.57},{"i":15,"x":5.4,"y":1.47},{"i":16,"x":7,"y":1.4},{"i":17,"x":8.5,"y":1.35},{"i":18,"x":10.35,"y":1.3},{"i":19,"x":12,"y":1.28},{"i":20,"x":14,"y":1.27},{"i":21,"x":16,"y":1.26},{"i":22,"x":18,"y":1.25},{"i":23,"x":18.6,"y":1.15},{"i":24,"x":19.0,"y":0.8},{"i":25,"x":19.5,"y":0.3}],
"dashed":[{"i":0,"x":0.25,"y":0.1},{"i":1,"x":0.25,"y":3},{"i":2,"x":0.27,"y":6},{"i":3,"x":0.33,"y":8.3},{"i":4,"x":0.45,"y":9.0},{"i":5,"x":0.6,"y":9.15},{"i":6,"x":0.75,"y":9.0},{"i":7,"x":1.03,"y":7.95},{"i":8,"x":1.5,"y":7.1},{"i":9,"x":2.2,"y":6.24},{"i":10,"x":2.8,"y":5.6},{"i":11,"x":3.28,"y":5.22},{"i":12,"x":4.35,"y":4.47},{"i":13,"x":5.0,"y":4.2},{"i":14,"x":5.64,"y":4.02},{"i":15,"x":6.5,"y":3.9},{"i":16,"x":7.57,"y":3.75},{"i":17,"x":9,"y":3.55},{"i":18,"x":10.35,"y":3.4},{"i":19,"x":12.15,"y":3.4},{"i":20,"x":14,"y":3.35},{"i":21,"x":16.0,"y":3.3},{"i":22,"x":16.5,"y":3.25},{"i":23,"x":17.5,"y":2.3},{"i":24,"x":18.5,"y":1.3},{"i":25,"x":19.5,"y":0.3}],
"dotted":[{"i":0,"x":0.2,"y":0.1},{"i":1,"x":0.22,"y":5},{"i":2,"x":0.25,"y":10},{"i":3,"x":0.3,"y":13.0},{"i":4,"x":0.42,"y":13.8},{"i":5,"x":0.6,"y":13.7},{"i":6,"x":0.89,"y":13.45},{"i":7,"x":1.43,"y":12.25},{"i":8,"x":2.07,"y":11.06},{"i":9,"x":2.82,"y":10.2},{"i":10,"x":3.68,"y":9.17},{"i":11,"x":4.75,"y":8.49},{"i":12,"x":5.82,"y":7.8},{"i":13,"x":7.54,"y":7.29},{"i":14,"x":9.03,"y":6.95},{"i":15,"x":10.32,"y":6.6},{"i":16,"x":11.48,"y":6.26},{"i":17,"x":12.6,"y":6.0},{"i":18,"x":13.62,"y":5.75},{"i":19,"x":14.3,"y":5.5},{"i":20,"x":15,"y":4.8},{"i":21,"x":16,"y":3.8},{"i":22,"x":17,"y":2.8},{"i":23,"x":18,"y":1.8},{"i":24,"x":19,"y":0.8},{"i":25,"x":19.6,"y":0.2}],
"note":[{"x":14.86,"y":10.15}]
},
"layer":[
{"data":{"name":"grid"},"mark":{"type":"rect"},
"encoding":{
"x":{"field":"x0","type":"quantitative","scale":{"domain":[0,20],"nice":false,"zero":false},"axis":null},
"x2":{"field":"x1"},
"y":{"field":"y0","type":"quantitative","scale":{"domain":[0,20],"nice":false,"zero":false},"axis":null},
"y2":{"field":"y1"},
"color":{"field":"v","type":"quantitative","scale":{"domain":[0,30],"range":["#ffffff","#000000"]},"legend":{"type":"gradient","title":null,"orient":"right","direction":"vertical","gradientLength":195,"gradientThickness":17,"offset":7,"values":[0,5,10,15,20,25,30],"labelFont":"Liberation Sans","labelFontSize":14,"labelOffset":7,"labelColor":"#000","gradientStrokeColor":"#555","gradientStrokeWidth":1,"padding":0}}
}},
{"data":{"name":"grid"},"mark":{"type":"rect"},
"encoding":{
"x":{"field":"x0","type":"quantitative","scale":{"domain":[0,20],"nice":false,"zero":false},"axis":null},
"x2":{"field":"x1"},
"y":{"field":"y0","type":"quantitative","scale":{"domain":[0,20],"nice":false,"zero":false},"axis":null},
"y2":{"field":"y1"},
"color":{"field":"v","type":"quantitative","scale":{"domain":[0,30],"range":["#ffffff","#000000"]},"legend":{"type":"gradient","title":null,"orient":"right","direction":"vertical","gradientLength":195,"gradientThickness":17,"offset":7,"values":[0,5,10,15,20,25,30],"labelFont":"Liberation Sans","labelFontSize":14,"labelOffset":7,"labelColor":"#000","gradientStrokeColor":"#555","gradientStrokeWidth":1,"padding":0}}
}},
{"data":{"name":"mask"},"mark":{"type":"area","fill":"white","strokeWidth":0},
"encoding":{
"x":{"field":"x","type":"quantitative","scale":{"domain":[0,20],"nice":false,"zero":false},"axis":null},
"y":{"field":"lo","type":"quantitative","scale":{"domain":[0,20],"nice":false,"zero":false},"axis":null},
"y2":{"field":"hi"}}},
{"data":{"name":"white"},"mark":{"type":"line","stroke":"white","strokeWidth":1.3},
"encoding":{"x":{"field":"x","type":"quantitative","scale":{"domain":[0,20],"nice":false,"zero":false},"axis":null},"y":{"field":"y","type":"quantitative","scale":{"domain":[0,20],"nice":false,"zero":false},"axis":null},"order":{"field":"i"}}},
{"data":{"name":"dashed"},"mark":{"type":"line","stroke":"black","strokeWidth":1.5,"strokeDash":[7,4]},
"encoding":{"x":{"field":"x","type":"quantitative","scale":{"domain":[0,20],"nice":false,"zero":false},"axis":null},"y":{"field":"y","type":"quantitative","scale":{"domain":[0,20],"nice":false,"zero":false},"axis":null},"order":{"field":"i"}}},
{"data":{"name":"dotted"},"mark":{"type":"line","stroke":"black","strokeWidth":1.6,"strokeDash":[2,4]},
"encoding":{"x":{"field":"x","type":"quantitative","scale":{"domain":[0,20],"nice":false,"zero":false},"axis":null},"y":{"field":"y","type":"quantitative","scale":{"domain":[0,20],"nice":false,"zero":false},"axis":null},"order":{"field":"i"}}},
{"data":{"name":"note"},"mark":{"type":"text","text":"E","font":"Liberation Serif","fontStyle":"italic","fontSize":16,"align":"left","baseline":"middle","dx":-20},
"encoding":{"x":{"field":"x","type":"quantitative","scale":{"domain":[0,20],"nice":false,"zero":false},"axis":null},"y":{"field":"y","type":"quantitative","scale":{"domain":[0,20],"nice":false,"zero":false},"axis":null}}},
{"data":{"name":"note"},"mark":{"type":"text","text":"ν","font":"Liberation Serif","fontStyle":"italic","fontSize":11,"align":"left","baseline":"middle","dx":-10,"dy":4},
"encoding":{"x":{"field":"x","type":"quantitative","scale":{"domain":[0,20],"nice":false,"zero":false},"axis":null},"y":{"field":"y","type":"quantitative","scale":{"domain":[0,20],"nice":false,"zero":false},"axis":null}}},
{"data":{"name":"note"},"mark":{"type":"text","text":"= 20GeV","font":"Liberation Serif","fontSize":16,"align":"left","baseline":"middle","dx":0},
"encoding":{"x":{"field":"x","type":"quantitative","scale":{"domain":[0,20],"nice":false,"zero":false},"axis":null},"y":{"field":"y","type":"quantitative","scale":{"domain":[0,20],"nice":false,"zero":false},"axis":null}}},
{"data":{"name":"frame"},"mark":{"type":"rect","fill":null,"fillOpacity":0,"stroke":"#444","strokeWidth":1},
"encoding":{
"x":{"field":"x0","type":"quantitative","scale":{"domain":[0,20],"nice":false,"zero":false},"axis":{"orient":"bottom","values":[0,2.5,5,7.5,10,12.5,15,17.5,20],"labelExpr":"datum.value % 5 === 0 ? datum.label : ''","tickSize":-4,"labelPadding":16,"title":"Eμ [GeV]","titlePadding":4,"zindex":2}},
"x2":{"field":"x1"},
"y":{"field":"y0","type":"quantitative","scale":{"domain":[0,20],"nice":false,"zero":false},"axis":{"orient":"left","values":[0,2.5,5,7.5,10,12.5,15,17.5,20],"labelExpr":"datum.value % 5 === 0 ? datum.label : ''","tickSize":-4,"labelPadding":16,"labelOffset":1.5,"title":"Eμ̄ [GeV]","titlePadding":5,"zindex":2}},
"y2":{"field":"y1"}}},
{"data":{"name":"frame"},"mark":{"type":"rect","fill":null,"fillOpacity":0,"stroke":"#444","strokeWidth":1},
"encoding":{
"x":{"field":"x0","type":"quantitative","scale":{"domain":[0,20],"nice":false,"zero":false},"axis":{"orient":"top","values":[0,2.5,5,7.5,10,12.5,15,17.5,20],"labels":false,"tickSize":-4,"title":null,"zindex":2}},
"x2":{"field":"x1"},
"y":{"field":"y0","type":"quantitative","scale":{"domain":[0,20],"nice":false,"zero":false},"axis":{"orient":"right","values":[0,2.5,5,7.5,10,12.5,15,17.5,20],"labels":false,"tickSize":-4,"title":null,"zindex":2}},
"y2":{"field":"y1"}}}
],
"resolve":{"scale":{"x":"independent","y":"independent"}}
}
